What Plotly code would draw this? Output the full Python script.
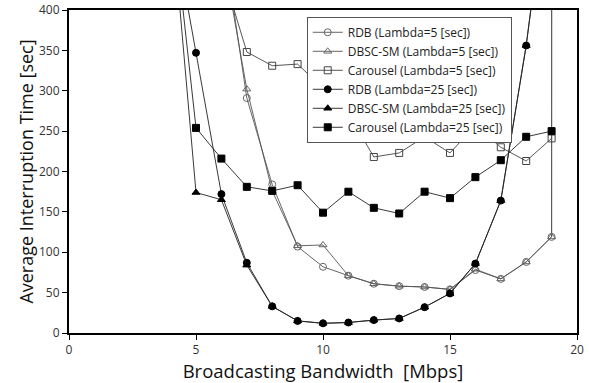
import plotly.graph_objects as go

x = [4, 5, 6, 7, 8, 9, 10, 11, 12, 13, 14, 15, 16, 17, 18, 19, 20]

rdb_l5 = [None, None, 504, 291, 184, 107, 82, 71, 61, 58, 57, 54, 78, 67, 88, 119, 100000]
dbsc_l5 = [None, None, 480, 302, 176, 108, 109, 71, 61, 58, 57, 54, 79, 67, 88, 119, 100000]
car_l5 = [None, None, 452, 348, 331, 333, 303, 272, 218, 223, 243, 223, 257, 230, 213, 241, None]
rdb_l25 = [522, 347, 172, 87, 33, 15, 12, 13, 16, 18, 32, 49, 86, 164, 356, 600, None]
dbsc_l25 = [533, 174, 165, 84, 33, 15, 12, 13, 16, 18, 32, 49, 86, 164, 356, 600, None]
car_l25 = [540, 254, 216, 181, 176, 183, 149, 175, 155, 148, 175, 167, 193, 214, 243, 250, None]

names = ["RDB (Lambda=5 [sec])", "DBSC-SM (Lambda=5 [sec])", "Carousel (Lambda=5 [sec])",
         "RDB (Lambda=25 [sec])", "DBSC-SM (Lambda=25 [sec])", "Carousel (Lambda=25 [sec])"]
series = [rdb_l5, dbsc_l5, car_l5, rdb_l25, dbsc_l25, car_l25]
symbols = ["circle-open", "triangle-up-open", "square-open", "circle", "triangle-up", "square"]
mcolors = ["#666666", "#666666", "#444444", "black", "black", "black"]
lcolors = ["#555555", "#555555", "#444444", "#222222", "#222222", "#222222"]

fig = go.Figure()
for n, s, sym, mc, lc in zip(names, series, symbols, mcolors, lcolors):
    fig.add_trace(go.Scatter(
        x=x, y=s, name=n, mode="lines+markers",
        line=dict(color=lc, width=0.9),
        marker=dict(symbol=sym, size=7, color=mc, line=dict(color=mc, width=1)),
        connectgaps=False,
    ))

font = "Open Sans"
fig.update_layout(
    width=589, height=383,
    margin=dict(l=69, r=12, t=10, b=50, pad=0),
    paper_bgcolor="white", plot_bgcolor="white",
    font=dict(family=font, color="#333333"),
    showlegend=True,
    legend=dict(x=0.468, y=0.979, xanchor="left", yanchor="top",
                bgcolor="white", bordercolor="#555555", borderwidth=1,
                font=dict(size=12, color="#222222", family=font),
                tracegroupgap=0, itemwidth=30),
)
fig.update_xaxes(
    range=[0, 20], tickvals=[0, 5, 10, 15, 20], ticks="outside", ticklen=5,
    tickcolor="black", showline=True, linecolor="black", linewidth=2, mirror=True,
    showgrid=False, zeroline=False, tickfont=dict(size=12, color="#333333"), automargin=False,
    title=dict(text="Broadcasting Bandwidth  [Mbps]", font=dict(size=18.5, color="#111111"), standoff=2),
)
fig.update_yaxes(
    range=[0, 400], tickvals=[0, 50, 100, 150, 200, 250, 300, 350, 400], ticks="outside", ticklen=5,
    tickcolor="black", showline=True, linecolor="black", linewidth=2, mirror=True,
    showgrid=False, zeroline=False, tickfont=dict(size=12, color="#333333"), automargin=False,
    title=dict(text="Average Interruption Time [sec]", font=dict(size=18, color="#111111"), standoff=1),
)
fig.write_html("out.html", config={"displayModeBar": False},
               post_script="document.body.style.margin='0';document.body.style.padding='0';")
